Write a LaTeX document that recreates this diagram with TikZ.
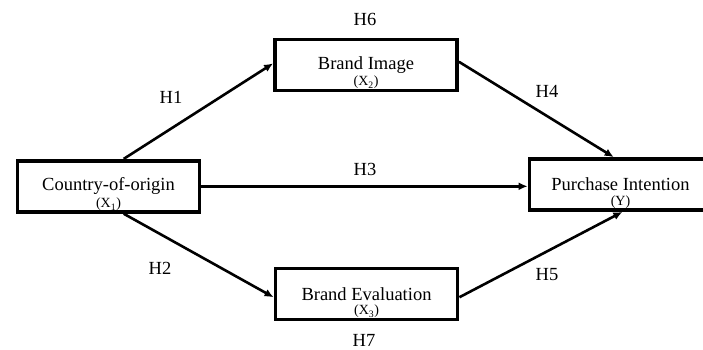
\documentclass[tikz,border=0pt]{standalone}
\usepackage{fontspec}
\setmainfont{Liberation Serif}
\usetikzlibrary{arrows, arrows.meta}
\usetikzlibrary{positioning}

\begin{document}
\begin{tikzpicture}[x=1pt,y=1pt,
  var/.style={draw=black, line width=3.8pt, minimum width=182pt, minimum height=51pt, font=\fontsize{18.5}{20}\selectfont},
  sub/.style={font=\fontsize{14}{15}\selectfont},
  hyp/.style={font=\fontsize{18.5}{20}\selectfont},
  link/.style={black, line width=2.6pt, -{Latex[length=9pt,width=8pt]}}]
\tikzstyle{every node}+=[inner sep=0pt]
\useasboundingbox (0,0) rectangle (703,-349);
\node[var] (cty) at (108.5,-186.3) {Country-of-origin};
\node[sub] (x1) at (108.5,-204.5) {(X\textsubscript{1})};
\node[var] (img) at (366,-65) {Brand Image};
\node[sub] (x2) at (366,-82.5) {(X\textsubscript{2})};
\node[var] (eva) at (366.5,-294) {Brand Evaluation};
\node[sub] (x3) at (366.5,-311.5) {(X\textsubscript{3})};
\node[var] (pur) at (620.5,-184.5) {Purchase Intention};
\node[sub] (y) at (620.5,-202) {(Y)};
\draw[link] (cty.61) -- (img.179);
\draw[link] (cty.-61) -- (eva.182);
\draw[link] (cty.east) -- (cty.east -| pur.west);
\draw[link] (img.2) -- (pur.104);
\draw[link] (eva.-2) -- (pur.-86);
\node[hyp] (h1) at (171,-97.5) {H1};
\node[hyp] (h2) at (160,-268.5) {H2};
\node[hyp] (h3) at (365,-169.5) {H3};
\node[hyp] (h4) at (547,-91) {H4};
\node[hyp] (h5) at (547,-275) {H5};
\node[hyp] (h6) at (365,-19) {H6};
\node[hyp] (h7) at (364,-340) {H7};
\end{tikzpicture}
\end{document}
